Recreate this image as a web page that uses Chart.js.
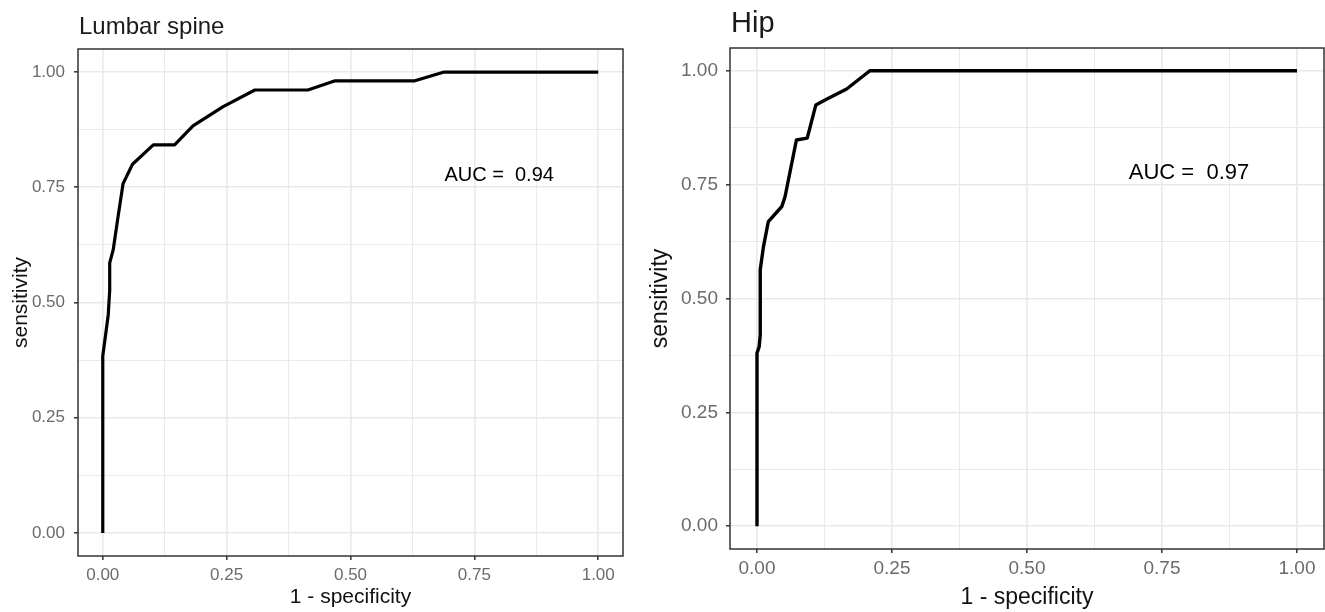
<!DOCTYPE html>
<html>
<head>
<meta charset="utf-8">
<script src="https://cdn.jsdelivr.net/npm/chart.js@4"></script>
<style>
  html, body { margin: 0; padding: 0; background: #fff; }
  #wrap { position: relative; width: 1325px; height: 612px; }
  .panel { position: absolute; top: 0; height: 612px; }
  #p1 { left: 0; width: 640px; }
  #p2 { left: 640px; width: 685px; }
</style>
</head>
<body>
<div id="wrap">
  <div class="panel" id="p1"><canvas id="spineChart"></canvas></div>
  <div class="panel" id="p2"><canvas id="hipChart"></canvas></div>
</div>
<script>
// valores (1 - especificidade, sensibilidade)
const spineFpr = [0, 0, 0.011, 0.014, 0.014, 0.021, 0.03, 0.041, 0.06, 0.102, 0.145, 0.182, 0.243, 0.307, 0.414, 0.469, 0.63, 0.689, 1];
const spineTpr = [0, 0.384, 0.473, 0.527, 0.586, 0.614, 0.68, 0.758, 0.80, 0.842, 0.842, 0.883, 0.925, 0.961, 0.961, 0.981, 0.981, 1, 1];

const hipFpr = [0, 0, 0.004, 0.006, 0.006, 0.012, 0.021, 0.046, 0.052, 0.073, 0.093, 0.109, 0.126, 0.166, 0.209, 1];
const hipTpr = [0, 0.38, 0.394, 0.42, 0.563, 0.614, 0.669, 0.702, 0.724, 0.848, 0.852, 0.925, 0.936, 0.96, 1, 1];

const tickValues = [0, 0.25, 0.5, 0.75, 1];
const panelTitles = ['Lumbar spine', 'Hip'];
const aucLabels = ['AUC =  0.94', 'AUC =  0.97'];
const aucPos = [0.8, 0.775];

// grade maior + menor (pontos médios entre ticks)
const gridValues = [];
tickValues.forEach((v, i) => {
    gridValues.push(v);
    if (i < tickValues.length - 1) gridValues.push((v + tickValues[i + 1]) / 2);
});
const isMajor = v => tickValues.includes(v);

function toPoints(xs, ys) {
    return xs.map((x, i) => ({ x: x, y: ys[i] }));
}

// borda do painel, título e texto AUC
const panelDecor = {
    id: 'panelDecor',
    afterDraw(chart, args, opts) {
        const { ctx, chartArea: a, scales } = chart;
        ctx.save();
        ctx.strokeStyle = '#333333';
        ctx.lineWidth = 1.5;
        ctx.strokeRect(a.left, a.top, a.right - a.left, a.bottom - a.top);

        ctx.fillStyle = '#1a1a1a';
        ctx.font = opts.titleSize + 'px "Liberation Sans", Arial, sans-serif';
        ctx.textAlign = 'left';
        ctx.textBaseline = 'alphabetic';
        ctx.fillText(opts.title, a.left + 1, opts.titleY);

        ctx.fillStyle = '#000';
        ctx.font = opts.aucSize + 'px "Liberation Sans", Arial, sans-serif';
        ctx.textAlign = 'center';
        ctx.textBaseline = 'middle';
        ctx.fillText(opts.auc, scales.x.getPixelForValue(aucPos[0]), scales.y.getPixelForValue(aucPos[1]));
        ctx.restore();
    }
};

function axis(cfg) {
    return {
        type: 'linear',
        min: -0.05,
        max: 1.05,
        afterBuildTicks: s => { s.ticks = gridValues.map(v => ({ value: v })); },
        afterFit: s => {
            if (cfg.width) s.width = cfg.width;
            if (cfg.height) s.height = cfg.height;
        },
        grid: {
            color: '#e9e9e9',
            lineWidth: c => (c.tick && isMajor(c.tick.value)) ? 1.6 : 1,
            tickColor: c => (c.tick && isMajor(c.tick.value)) ? '#333333' : 'rgba(0,0,0,0)',
            tickLength: 4,
            tickWidth: 1.5,
            drawOnChartArea: true
        },
        border: { display: false },
        ticks: {
            autoSkip: false,
            maxRotation: 0,
            padding: cfg.tickPad,
            color: '#6b6b6b',
            font: { size: cfg.tickSize, family: '"Liberation Sans", Arial, sans-serif' },
            callback: v => isMajor(v) ? v.toFixed(2) : ''
        },
        title: {
            display: true,
            text: cfg.title,
            color: '#111',
            padding: cfg.titlePad,
            font: { size: cfg.titleSize, family: '"Liberation Sans", Arial, sans-serif' }
        }
    };
}

function makeChart(id, xs, ys, p) {
    return new Chart(document.getElementById(id), {
        type: 'scatter',
        data: {
            datasets: [{
                data: toPoints(xs, ys),
                showLine: true,
                borderColor: '#000',
                borderWidth: p.lineWidth,
                pointRadius: 0,
                tension: 0,
                borderJoinStyle: 'round'
            }]
        },
        options: {
            responsive: true,
            maintainAspectRatio: false,
            animation: false,
            layout: { padding: p.padding },
            plugins: {
                legend: { display: false },
                tooltip: { enabled: false },
                panelDecor: p.decor
            },
            scales: {
                x: axis(p.x),
                y: axis(p.y)
            }
        },
        plugins: [panelDecor]
    });
}

makeChart('spineChart', spineFpr, spineTpr, {
    lineWidth: 3.2,
    padding: { left: 0, right: 17, top: 49, bottom: 0 },
    decor: { title: panelTitles[0], titleSize: 24, titleY: 34, auc: aucLabels[0], aucSize: 20 },
    x: { height: 56, tickSize: 17, tickPad: 5, title: '1 - specificity', titleSize: 21, titlePad: { top: 0, bottom: 2 } },
    y: { width: 78, tickSize: 17, tickPad: 9, title: 'sensitivity', titleSize: 21, titlePad: { top: 9, bottom: 0 } }
});

makeChart('hipChart', hipFpr, hipTpr, {
    lineWidth: 3.4,
    padding: { left: 0, right: 1, top: 48, bottom: 0 },
    decor: { title: panelTitles[1], titleSize: 29, titleY: 32, auc: aucLabels[1], aucSize: 22 },
    x: { height: 63, tickSize: 19, tickPad: 4, title: '1 - specificity', titleSize: 23, titlePad: { top: 0, bottom: 1 } },
    y: { width: 90, tickSize: 19, tickPad: 8, title: 'sensitivity', titleSize: 23, titlePad: { top: 7, bottom: 0 } }
});
</script>
</body>
</html>
